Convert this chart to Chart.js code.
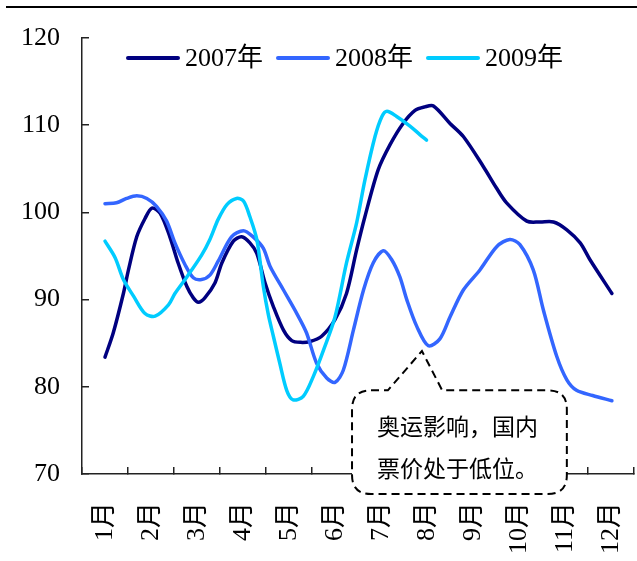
<!DOCTYPE html>
<html>
<head>
<meta charset="utf-8">
<script src="https://cdn.jsdelivr.net/npm/chart.js@4/dist/chart.umd.min.js"></script>
<style>
  html, body { margin: 0; padding: 0; background: #ffffff; }
  #wrap { width: 637px; height: 561px; position: relative; }
</style>
</head>
<body>
<div id="wrap"><canvas id="chart" width="637" height="561"></canvas></div>
<script>
// Month categories on the x axis
const monthLabels = ['1月', '2月', '3月', '4月', '5月', '6月', '7月', '8月', '9月', '10月', '11月', '12月'];

// Value axis range and step
const yMin = 70;
const yMax = 120;
const yStep = 10;

// Series names
const seriesNames = ['2007年', '2008年', '2009年'];

// Weekly readings: position in months (1 = January) and index value
const pos2007 = [1.00, 1.18, 1.40, 1.51, 1.69, 1.87, 2.02, 2.20, 2.41, 2.59, 2.78, 2.92, 3.03, 3.17, 3.39, 3.54, 3.79, 3.97, 4.15, 4.30, 4.48, 4.66, 4.88, 5.06, 5.25, 5.46, 5.71, 6.00, 6.25, 6.47, 6.65, 6.94, 7.20, 7.48, 7.74, 7.95, 8.14, 8.50, 8.79, 9.22, 9.51, 9.73, 10.17, 10.45, 10.75, 11.04, 11.33, 11.54, 12.02];
const val2007 = [83.4, 86.2, 90.7, 93.4, 97.2, 99.3, 100.5, 99.9, 97.2, 94.2, 91.5, 90.2, 89.7, 90.2, 91.9, 94.2, 96.7, 97.2, 96.5, 95.3, 91.9, 89.2, 86.5, 85.3, 85.1, 85.2, 85.8, 87.7, 90.7, 95.7, 99.5, 104.9, 107.8, 110.2, 111.7, 112.1, 112.2, 110.2, 108.7, 105.3, 102.8, 101.1, 99.0, 98.9, 98.9, 98.0, 96.5, 94.6, 90.7];

const pos2008 = [1.00, 1.25, 1.47, 1.69, 1.91, 2.12, 2.34, 2.52, 2.74, 2.92, 3.10, 3.28, 3.46, 3.75, 4.01, 4.22, 4.44, 4.59, 4.88, 5.17, 5.38, 5.60, 5.82, 6.00, 6.18, 6.40, 6.62, 6.83, 7.05, 7.23, 7.41, 7.56, 7.78, 8.03, 8.28, 8.50, 8.79, 9.15, 9.52, 9.80, 10.02, 10.31, 10.53, 10.82, 11.04, 11.25, 11.60, 12.02];
const val2008 = [101.0, 101.1, 101.6, 101.9, 101.6, 100.7, 99.0, 96.5, 94.0, 92.5, 92.3, 92.8, 94.4, 97.2, 97.9, 97.2, 95.9, 93.8, 91.1, 88.4, 86.2, 82.7, 81.0, 80.5, 81.9, 86.5, 91.1, 94.2, 95.6, 94.6, 92.6, 90.0, 86.9, 84.7, 85.5, 88.0, 91.1, 93.4, 96.1, 96.9, 96.3, 93.4, 88.8, 83.5, 80.8, 79.6, 79.0, 78.4];

const pos2009 = [1.00, 1.22, 1.40, 1.62, 1.87, 2.09, 2.38, 2.52, 2.78, 3.10, 3.28, 3.46, 3.65, 3.86, 4.01, 4.15, 4.30, 4.44, 4.55, 4.66, 4.80, 4.95, 5.09, 5.31, 5.53, 5.75, 6.00, 6.25, 6.47, 6.65, 6.87, 7.02, 7.13, 7.34, 7.63, 7.85, 7.99];
const val2009 = [96.7, 94.8, 92.3, 90.4, 88.4, 88.1, 89.4, 90.7, 92.6, 95.1, 96.9, 99.2, 100.9, 101.6, 101.3, 99.5, 96.9, 91.6, 88.3, 85.8, 82.7, 79.6, 78.5, 78.9, 81.2, 84.2, 88.0, 94.2, 98.8, 103.7, 108.7, 111.0, 111.6, 111.0, 109.9, 108.9, 108.3];

// Callout note text
const noteLines = ['奥运影响，国内', '票价处于低位。'];

const FONT = "'Liberation Serif', 'Noto Sans CJK SC', serif";
const CJK_FONT = "'Noto Sans CJK SC', 'Liberation Serif', serif";
const COLORS = ['#000080', '#3366FF', '#00CCFF'];

function toPoints(xs, ys) {
  return xs.map((x, i) => ({ x: x, y: ys[i] }));
}

// Callout geometry in axis units (month position, index value)
const callout = {
  left: 6.37, right: 11.04, top: 79.6, bottom: 67.7,
  tipX: 7.89, tipY: 84.1, baseL: 7.15, baseR: 8.33, radius: 19
};

// Scales get a fixed footprint so the plot area lands where it should
function fixBox(size, key) {
  return function (scale) {
    scale[key] = size;
    scale.paddingLeft = 0;
    scale.paddingRight = 0;
    scale.paddingTop = 0;
    scale.paddingBottom = 0;
  };
}

const topRulePlugin = {
  id: 'topRule',
  afterDraw(chart) {
    const ctx = chart.ctx;
    ctx.save();
    ctx.strokeStyle = '#000';
    ctx.lineWidth = 2;
    ctx.beginPath();
    ctx.moveTo(6, 7);
    ctx.lineTo(637, 7);
    ctx.stroke();
    ctx.restore();
  }
};

const legendPlugin = {
  id: 'inlineLegend',
  afterDatasetsDraw(chart) {
    const ctx = chart.ctx;
    ctx.save();
    ctx.font = '26px ' + FONT;
    ctx.textBaseline = 'middle';
    ctx.textAlign = 'left';
    const y = 58;
    chart.data.datasets.forEach((ds, i) => {
      const x0 = 128 + i * 150;
      ctx.strokeStyle = ds.borderColor;
      ctx.lineWidth = 4;
      ctx.lineCap = 'round';
      ctx.beginPath();
      ctx.moveTo(x0, y);
      ctx.lineTo(x0 + 50, y);
      ctx.stroke();
      ctx.fillStyle = '#000';
      ctx.fillText(ds.label, x0 + 57, y + 1);
    });
    ctx.restore();
  }
};

const calloutPlugin = {
  id: 'callout',
  afterDraw(chart) {
    const xs = chart.scales.xd, ys = chart.scales.y;
    const L = xs.getPixelForValue(callout.left);
    const R = xs.getPixelForValue(callout.right);
    const T = ys.getPixelForValue(callout.top);
    const B = ys.getPixelForValue(callout.bottom);
    const tx = xs.getPixelForValue(callout.tipX);
    const ty = ys.getPixelForValue(callout.tipY);
    const bl = xs.getPixelForValue(callout.baseL);
    const br = xs.getPixelForValue(callout.baseR);
    const r = callout.radius;
    const ctx = chart.ctx;
    ctx.save();
    ctx.beginPath();
    ctx.moveTo(L + r, T);
    ctx.lineTo(bl, T);
    ctx.lineTo(tx, ty);
    ctx.lineTo(br, T);
    ctx.lineTo(R - r, T);
    ctx.quadraticCurveTo(R, T, R, T + r);
    ctx.lineTo(R, B - r);
    ctx.quadraticCurveTo(R, B, R - r, B);
    ctx.lineTo(L + r, B);
    ctx.quadraticCurveTo(L, B, L, B - r);
    ctx.lineTo(L, T + r);
    ctx.quadraticCurveTo(L, T, L + r, T);
    ctx.closePath();
    ctx.fillStyle = '#fff';
    ctx.fill();
    ctx.setLineDash([8, 5]);
    ctx.lineWidth = 2;
    ctx.strokeStyle = '#000';
    ctx.stroke();
    ctx.setLineDash([]);
    ctx.fillStyle = '#000';
    ctx.font = '23px ' + CJK_FONT;
    ctx.textAlign = 'center';
    ctx.textBaseline = 'middle';
    const cx = (L + R) / 2 - 2;
    ctx.fillText(noteLines[0], cx, T + 36);
    ctx.fillText(noteLines[1], cx, T + 78);
    ctx.restore();
  }
};

const datasets = [
  { label: seriesNames[0], data: toPoints(pos2007, val2007), borderColor: COLORS[0], order: 2 },
  { label: seriesNames[1], data: toPoints(pos2008, val2008), borderColor: COLORS[1], order: 1 },
  { label: seriesNames[2], data: toPoints(pos2009, val2009), borderColor: COLORS[2], order: 0 }
].map(d => Object.assign(d, {
  xAxisID: 'xd', yAxisID: 'y', borderWidth: 3.5, pointRadius: 0,
  tension: 0.3, fill: false, borderCapStyle: 'round', borderJoinStyle: 'round'
}));

new Chart(document.getElementById('chart'), {
  type: 'line',
  data: { labels: monthLabels, datasets: datasets },
  options: {
    responsive: false,
    devicePixelRatio: 1,
    animation: false,
    layout: { padding: { left: 0, right: 3, top: 38, bottom: 0 } },
    plugins: { legend: { display: false }, tooltip: { enabled: false } },
    scales: {
      x: {
        type: 'category',
        labels: monthLabels,
        position: 'bottom',
        offset: true,
        grid: { offset: true, drawOnChartArea: false, drawTicks: true, tickLength: -7, color: '#222', lineWidth: 1.5 },
        border: { display: true, color: '#222', width: 1.5 },
        ticks: { autoSkip: false, minRotation: 90, maxRotation: 90, padding: 35, color: '#000', font: { family: FONT, size: 26 } },
        afterFit: fixBox(87, 'height')
      },
      xd: {
        type: 'linear',
        display: false,
        min: 0.5,
        max: 12.5
      },
      y: {
        type: 'linear',
        position: 'left',
        min: yMin,
        max: yMax,
        grid: { drawOnChartArea: false, drawTicks: true, tickLength: -7, color: '#222', lineWidth: 1.5 },
        border: { display: true, color: '#222', width: 1.5 },
        ticks: { stepSize: yStep, padding: 29, color: '#000', font: { family: FONT, size: 26 } },
        afterFit: fixBox(82, 'width')
      }
    }
  },
  plugins: [topRulePlugin, legendPlugin, calloutPlugin]
});
</script>
</body>
</html>
